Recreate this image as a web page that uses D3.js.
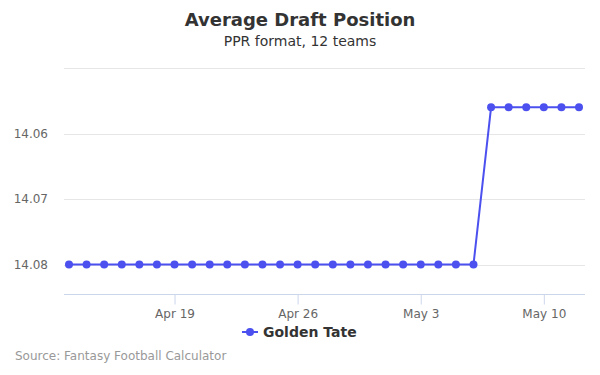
<!DOCTYPE html>
<html>
<head>
<meta charset="utf-8">
<script src="https://cdn.jsdelivr.net/npm/d3@7"></script>
<style>
  body { margin: 0; background: #fff; font-family: "DejaVu Sans", sans-serif; }
</style>
</head>
<body>
<script>
// Data
const dates = [
  "2018-04-13", "2018-04-14", "2018-04-15", "2018-04-16", "2018-04-17", "2018-04-18",
  "2018-04-19", "2018-04-20", "2018-04-21", "2018-04-22", "2018-04-23", "2018-04-24",
  "2018-04-25", "2018-04-26", "2018-04-27", "2018-04-28", "2018-04-29", "2018-04-30",
  "2018-05-01", "2018-05-02", "2018-05-03", "2018-05-04", "2018-05-05", "2018-05-06",
  "2018-05-07", "2018-05-08", "2018-05-09", "2018-05-10", "2018-05-11", "2018-05-12"
];
const adp = [
  14.08, 14.08, 14.08, 14.08, 14.08, 14.08,
  14.08, 14.08, 14.08, 14.08, 14.08, 14.08,
  14.08, 14.08, 14.08, 14.08, 14.08, 14.08,
  14.08, 14.08, 14.08, 14.08, 14.08, 14.08,
  14.056, 14.056, 14.056, 14.056, 14.056, 14.056
];
const yTicks = [14.05, 14.06, 14.07, 14.08];
const yLabels = ["", "14.06", "14.07", "14.08"];
const xTicks = ["2018-04-19", "2018-04-26", "2018-05-03", "2018-05-10"];
const seriesName = "Golden Tate";

const W = 600, H = 375;
const plot = { left: 64, right: 585, top: 68, bottom: 294 };
const parse = d3.timeParse("%Y-%m-%d");
const data = dates.map((d, i) => ({ date: parse(d), value: adp[i] }));

const svg = d3.select("body").append("svg")
  .attr("width", W)
  .attr("height", H);

// scales
const x = d3.scaleTime()
  .domain([parse("2018-04-13"), parse("2018-05-12")])
  .range([69, 579]);
const y = d3.scaleLinear()
  .domain([14.05, 14.0845])
  .range([plot.top, plot.bottom]);

// titles
svg.append("text")
  .attr("x", W / 2).attr("y", 26)
  .attr("text-anchor", "middle")
  .style("font-size", "18px").style("font-weight", "bold").style("fill", "#333")
  .text("Average Draft Position");
svg.append("text")
  .attr("x", W / 2).attr("y", 46)
  .attr("text-anchor", "middle")
  .style("font-size", "14px").style("fill", "#333")
  .text("PPR format, 12 teams");

// grid lines
svg.append("g")
  .selectAll("line")
  .data(yTicks)
  .enter()
  .append("line")
  .attr("x1", plot.left).attr("x2", plot.right)
  .attr("y1", d => Math.round(y(d)) + 0.5)
  .attr("y2", d => Math.round(y(d)) + 0.5)
  .attr("stroke", "#e6e6e6");

// y axis labels
const yAxis = d3.axisLeft(y)
  .tickValues(yTicks)
  .tickSize(0)
  .tickPadding(0)
  .tickFormat((d, i) => yLabels[i]);
svg.append("g")
  .attr("transform", "translate(48,0)")
  .call(yAxis)
  .call(g => g.select(".domain").remove())
  .call(g => g.selectAll("text")
    .style("font-size", "12px").style("fill", "#666")
    .style("font-family", "DejaVu Sans, sans-serif"));

// x axis
const xAxis = d3.axisBottom(x)
  .tickValues(xTicks.map(parse))
  .tickSize(10)
  .tickPadding(5)
  .tickFormat(d3.timeFormat("%b %-d"));
const gx = svg.append("g")
  .attr("transform", "translate(0," + (plot.bottom + 0.5) + ")")
  .call(xAxis);
gx.select(".domain")
  .attr("d", "M" + plot.left + ",0H" + plot.right)
  .attr("stroke", "#ccd6eb");
gx.selectAll(".tick line").attr("stroke", "#ccd6eb");
gx.selectAll("text")
  .style("font-size", "12px").style("fill", "#666")
  .style("font-family", "DejaVu Sans, sans-serif");

// series
const color = "#4b50ef";
const line = d3.line()
  .x(d => x(d.date))
  .y(d => y(d.value));
svg.append("path")
  .datum(data)
  .attr("d", line)
  .attr("fill", "none")
  .attr("stroke", color)
  .attr("stroke-width", 2);
svg.append("g")
  .selectAll("circle")
  .data(data)
  .enter()
  .append("circle")
  .attr("cx", d => x(d.date))
  .attr("cy", d => y(d.value))
  .attr("r", 4)
  .attr("fill", color);

// legend
const lg = svg.append("g").attr("transform", "translate(242,332)");
lg.append("line")
  .attr("x1", 0).attr("x2", 16).attr("y1", 0).attr("y2", 0)
  .attr("stroke", color).attr("stroke-width", 2);
lg.append("circle").attr("cx", 8).attr("cy", 0).attr("r", 4).attr("fill", color);
lg.append("text")
  .attr("x", 21).attr("y", 5)
  .style("font-size", "14px").style("font-weight", "bold").style("fill", "#333")
  .text(seriesName);

// credits
svg.append("text")
  .attr("x", 15).attr("y", 360)
  .style("font-size", "12px").style("fill", "#999")
  .text("Source: Fantasy Football Calculator");
</script>
</body>
</html>
